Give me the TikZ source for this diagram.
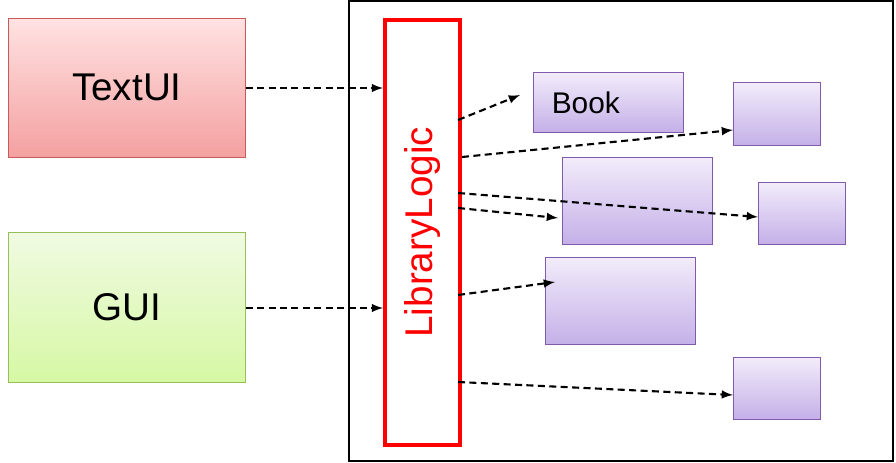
\documentclass[tikz,border=0pt]{standalone}
\usepackage{fontspec}
\setmainfont{Liberation Sans}
\usetikzlibrary{positioning}
\definecolor{redtop}{RGB}{255,226,226}
\definecolor{redbot}{RGB}{244,160,160}
\definecolor{redline}{RGB}{200,90,90}
\definecolor{greentop}{RGB}{240,250,226}
\definecolor{greenbot}{RGB}{214,248,164}
\definecolor{greenline}{RGB}{150,190,90}
\definecolor{purptop}{RGB}{242,236,250}
\definecolor{purpbot}{RGB}{196,176,232}
\definecolor{purpline}{RGB}{130,90,170}
\tikzset{
  ui/.style={draw, minimum width=237*0.02cm, anchor=north west, font=\fontsize{22}{24}\selectfont},
  part/.style={draw=purpline, top color=purptop, bottom color=purpbot, anchor=north west, inner sep=0pt, font=\fontsize{17}{20}\selectfont},
  dep/.style={draw, dash pattern=on 4pt off 2.5pt, line width=1.2pt, -latex}
}
\begin{document}
\begin{tikzpicture}[x=0.02cm,y=-0.02cm]
    \useasboundingbox (0,0) rectangle (896,463);
    \draw[line width=1pt] (349,1) rectangle (893,461);

    \node[ui, draw=redline, top color=redtop, bottom color=redbot, minimum height=139*0.02cm] (text) at (8,18) {TextUI};
    \node[ui, draw=greenline, top color=greentop, bottom color=greenbot, minimum height=150*0.02cm] (gui) at (8,232) {GUI};

    \node[draw=red, line width=2pt, minimum width=75*0.02cm, minimum height=425*0.02cm, anchor=north west] (logic) at (383,18) {};
    \node[rotate=90, text=red, font=\fontsize{22}{24}\selectfont] at (logic.center) {LibraryLogic};

    \node[part, minimum width=150*0.02cm, minimum height=60*0.02cm] (book) at (533,72) {\hspace*{-0.9cm}Book};
    \node[part, minimum width=87*0.02cm, minimum height=63*0.02cm] (b2) at (733,82) {};
    \node[part, minimum width=150*0.02cm, minimum height=87*0.02cm] (b3) at (562,157) {};
    \node[part, minimum width=87*0.02cm, minimum height=62*0.02cm] (b4) at (758,182) {};
    \node[part, minimum width=150*0.02cm, minimum height=87*0.02cm] (b5) at (545,257) {};
    \node[part, minimum width=87*0.02cm, minimum height=62*0.02cm] (b6) at (733,357) {};

    \coordinate (l1) at (458,120);
    \coordinate (l2) at (462,157);
    \coordinate (l3) at (458,193);
    \coordinate (l4) at (458,208);
    \coordinate (l5) at (458,295);
    \coordinate (l6) at (458,382);

    \draw[dep] (text.east |- 0,88) -- (logic.west |- 0,88);
    \draw[dep] (gui.east |- 0,308) -- (logic.west |- 0,308);
    \draw[dep] (l1) -- (520,95);
    \draw[dep] (l2) -- (b2.west |- 0,130);
    \draw[dep] (l3) -- (b4.west |- 0,217);
    \draw[dep] (l4) -- (558,218);
    \draw[dep] (l5) -- (555,282);
    \draw[dep] (l6) -- (b6.west |- 0,395);
\end{tikzpicture}
\end{document}
